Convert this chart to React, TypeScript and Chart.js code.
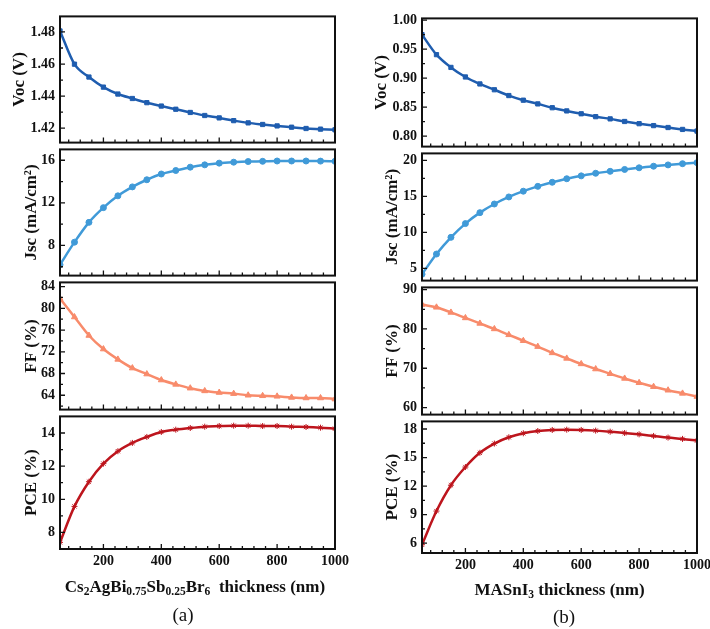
import React, { useEffect, useRef } from "react";
import { Chart, registerables } from "chart.js";

Chart.register(...registerables);

// ---------- data ----------
const thickness = [50, 100, 150, 200, 250, 300, 350, 400, 450, 500, 550, 600, 650, 700, 750, 800, 850, 900, 950, 1000];

const vocA = [1.4806, 1.4599, 1.4519, 1.4456, 1.4413, 1.4385, 1.4359, 1.4338, 1.4318, 1.4298, 1.4279, 1.4264, 1.4247, 1.4233, 1.4223, 1.4214, 1.4206, 1.4198, 1.4194, 1.419];
const jscA = [6.19, 8.31, 10.17, 11.55, 12.66, 13.5, 14.17, 14.71, 15.04, 15.35, 15.57, 15.73, 15.82, 15.88, 15.9, 15.93, 15.93, 15.93, 15.92, 15.9];
const ffA = [81.8, 78.4, 75.0, 72.5, 70.6, 69.0, 67.9, 66.8, 66.0, 65.3, 64.8, 64.5, 64.3, 64.0, 63.9, 63.8, 63.6, 63.5, 63.5, 63.3];
const pceA = [7.4, 9.57, 11.06, 12.15, 12.9, 13.4, 13.76, 14.06, 14.2, 14.3, 14.38, 14.42, 14.44, 14.44, 14.42, 14.42, 14.38, 14.36, 14.32, 14.26];

const vocB = [0.975, 0.9405, 0.9185, 0.902, 0.89, 0.88, 0.87, 0.862, 0.8556, 0.849, 0.8435, 0.8386, 0.8336, 0.8298, 0.8253, 0.8215, 0.8182, 0.8149, 0.8116, 0.8088];
const jscB = [4.2, 7.0, 9.32, 11.23, 12.75, 13.95, 14.93, 15.73, 16.4, 16.97, 17.46, 17.86, 18.22, 18.49, 18.75, 18.98, 19.2, 19.38, 19.55, 19.69];
const ffB = [86.2, 85.5, 84.2, 82.8, 81.4, 80.0, 78.5, 77.0, 75.5, 73.9, 72.5, 71.1, 69.8, 68.6, 67.4, 66.3, 65.3, 64.4, 63.6, 62.8];
const pceB = [5.83, 9.37, 12.09, 14.0, 15.5, 16.47, 17.13, 17.55, 17.79, 17.9, 17.93, 17.9, 17.83, 17.72, 17.58, 17.44, 17.27, 17.1, 16.96, 16.78];

// ---------- tick labels ----------
const xTicks = [200, 400, 600, 800, 1000];
const vocATicks = [1.42, 1.44, 1.46, 1.48];
const jscATicks = [8, 12, 16];
const ffATicks = [64, 68, 72, 76, 80, 84];
const pceATicks = [8, 10, 12, 14];
const vocBTicks = [0.8, 0.85, 0.9, 0.95, 1.0];
const jscBTicks = [5, 10, 15, 20];
const ffBTicks = [60, 70, 80, 90];
const pceBTicks = [6, 9, 12, 15, 18];

const FONT = "'Liberation Serif', 'Times New Roman', serif";
const C_VOC = "#1f5daf";
const C_JSC = "#409ad8";
const C_FF = "#f88b6b";
const C_PCE = "#bd151d";

type PanelDef = {
  values: number[];
  color: string;
  pointStyle: string;
  radius: number;
  yMin: number;
  yMax: number;
  ticks: number[];
  decimals: number;
  title: string;
  titlePad: number;
  showX: boolean;
  left: number;
  width: number;
  yW: number;
  padRight: number;
  top: number;
  bottom: number;
};

const framePlugin = {
  id: "frame",
  afterDatasetsDraw(chart: any, _args: any, opts: any) {
    const { ctx, chartArea, scales } = chart;
    const { left, right, top, bottom } = chartArea;
    const x = scales.x;
    const y = scales.y;
    ctx.save();
    ctx.strokeStyle = "#111";
    ctx.lineWidth = 1.3;
    ctx.beginPath();
    // bottom axis ticks (inward)
    for (let v = 80; v <= 1000; v += 40) {
      const px = x.getPixelForValue(v);
      if (px <= left + 1 || px >= right - 1) continue;
      const len = v % 200 === 0 ? 5 : 3;
      ctx.moveTo(px, bottom);
      ctx.lineTo(px, bottom - len);
    }
    // left axis ticks (inward)
    const majors: number[] = opts.majors || [];
    const step = majors.length > 1 ? majors[1] - majors[0] : 1;
    const half = step / 2;
    const start = majors[0] - Math.ceil((majors[0] - y.min) / half) * half;
    for (let i = 0; ; i++) {
      const v = start + i * half;
      if (v > y.max + 1e-9) break;
      if (v < y.min - 1e-9) continue;
      const py = y.getPixelForValue(v);
      if (py <= top + 1 || py >= bottom - 1) continue;
      const isMajor = majors.some((m) => Math.abs(m - v) < half * 0.1);
      ctx.moveTo(left, py);
      ctx.lineTo(left + (isMajor ? 5 : 3), py);
    }
    ctx.stroke();
    ctx.lineWidth = 2;
    ctx.strokeRect(left, top, right - left, bottom - top);
    ctx.restore();
  },
};

function Panel({ p }: { p: PanelDef }) {
  const ref = useRef<HTMLCanvasElement | null>(null);
  const padTop = 10;
  const xH = p.showX ? 28 : 0;
  const padBottom = p.showX ? 0 : 10;
  const canvasTop = p.top - padTop;
  const height = p.bottom - p.top + padTop + padBottom + xH;

  useEffect(() => {
    if (!ref.current) return;
    const chart = new Chart(ref.current, {
      type: "line",
      data: {
        datasets: [
          {
            data: thickness.map((t, i) => ({ x: t, y: p.values[i] })),
            borderColor: p.color,
            backgroundColor: p.color,
            borderWidth: 2.5,
            pointStyle: p.pointStyle as any,
            pointRadius: p.radius,
            pointBorderWidth: 1,
            pointBorderColor: p.color,
            pointBackgroundColor: p.color,
            tension: 0.35,
            cubicInterpolationMode: "monotone",
          },
        ],
      },
      options: {
        animation: false,
        responsive: false,
        events: [],
        layout: { padding: { top: padTop, bottom: padBottom, left: 0, right: p.padRight } },
        plugins: {
          legend: { display: false },
          tooltip: { enabled: false },
          frame: { majors: p.ticks },
        } as any,
        scales: {
          x: {
            type: "linear",
            min: 50,
            max: 1000,
            afterBuildTicks: (s: any) => {
              s.ticks = xTicks.map((v) => ({ value: v }));
            },
            afterFit: (s: any) => {
              s.height = xH;
            },
            grid: { display: false, drawTicks: false },
            border: { display: false },
            ticks: {
              display: p.showX,
              padding: 4,
              maxRotation: 0,
              autoSkip: false,
              color: "#111",
              font: { family: FONT, size: 14, weight: "bold" },
              callback: (v: any) => String(Math.round(Number(v))),
            },
          },
          y: {
            type: "linear",
            min: p.yMin,
            max: p.yMax,
            afterBuildTicks: (s: any) => {
              s.ticks = p.ticks.map((v) => ({ value: v }));
            },
            afterFit: (s: any) => {
              s.width = p.yW;
            },
            grid: { display: false, drawTicks: false },
            border: { display: false },
            ticks: {
              padding: 5,
              color: "#111",
              font: { family: FONT, size: 14, weight: "bold" },
              callback: (v: any) => Number(v).toFixed(p.decimals),
            },
            title: {
              display: true,
              text: p.title,
              color: "#111",
              font: { family: FONT, size: 17, weight: "bold" },
              padding: { top: p.titlePad, bottom: 0 },
            },
          },
        },
      },
      plugins: [framePlugin],
    } as any);
    return () => chart.destroy();
  }, []);

  return (
    <canvas
      ref={ref}
      width={p.width}
      height={height}
      style={{ position: "absolute", left: p.left, top: canvasTop, width: p.width, height }}
    />
  );
}

const L = { left: 0, width: 355, yW: 60, padRight: 20 };
const R = { left: 360, width: 360, yW: 62, padRight: 23 };

const panels: PanelDef[] = [
  { ...L, values: vocA, color: C_VOC, pointStyle: "rect", radius: 3, yMin: 1.411, yMax: 1.4897, ticks: vocATicks, decimals: 2, title: "Voc (V)", titlePad: 9, showX: false, top: 13, bottom: 146 },
  { ...L, values: jscA, color: C_JSC, pointStyle: "circle", radius: 3, yMin: 5.17, yMax: 17.02, ticks: jscATicks, decimals: 0, title: "Jsc (mA/cm²)", titlePad: 21, showX: false, top: 146, bottom: 279 },
  { ...L, values: ffA, color: C_FF, pointStyle: "triangle", radius: 3.5, yMin: 61.36, yMax: 84.77, ticks: ffATicks, decimals: 0, title: "FF (%)", titlePad: 21, showX: false, top: 279, bottom: 413 },
  { ...L, values: pceA, color: C_PCE, pointStyle: "star", radius: 3, yMin: 7.0, yMax: 15.0, ticks: pceATicks, decimals: 0, title: "PCE (%)", titlePad: 21, showX: true, top: 413, bottom: 549 },
  { ...R, values: vocB, color: C_VOC, pointStyle: "rect", radius: 3, yMin: 0.782, yMax: 1.003, ticks: vocBTicks, decimals: 2, title: "Voc (V)", titlePad: 11, showX: false, top: 15, bottom: 150 },
  { ...R, values: jscB, color: C_JSC, pointStyle: "circle", radius: 3, yMin: 3.31, yMax: 20.98, ticks: jscBTicks, decimals: 0, title: "Jsc (mA/cm²)", titlePad: 22, showX: false, top: 150, bottom: 284 },
  { ...R, values: ffB, color: C_FF, pointStyle: "triangle", radius: 3.5, yMin: 58.2, yMax: 90.57, ticks: ffBTicks, decimals: 0, title: "FF (%)", titlePad: 22, showX: false, top: 284, bottom: 418 },
  { ...R, values: pceB, color: C_PCE, pointStyle: "star", radius: 3, yMin: 4.96, yMax: 18.8, ticks: pceBTicks, decimals: 0, title: "PCE (%)", titlePad: 22, showX: true, top: 418, bottom: 553 },
];

const subStyle: React.CSSProperties = { fontSize: "0.68em", verticalAlign: "-0.3em", lineHeight: 0 };

export default function App() {
  return (
    <div
      style={{
        position: "absolute",
        left: 0,
        top: 0,
        width: 710,
        height: 629,
        overflow: "hidden",
        background: "#fff",
        fontFamily: FONT,
        color: "#111",
      }}
    >
      {panels.map((p, i) => (
        <Panel key={i} p={p} />
      ))}
      <div
        style={{
          position: "absolute",
          left: 40,
          width: 310,
          top: 577,
          lineHeight: "20px",
          textAlign: "center",
          fontSize: 17,
          fontWeight: "bold",
          whiteSpace: "pre",
        }}
      >
        Cs<sub style={subStyle}>2</sub>AgBi<sub style={subStyle}>0.75</sub>Sb<sub style={subStyle}>0.25</sub>Br<sub style={subStyle}>6</sub>{"  thickness (nm)"}
      </div>
      <div
        style={{
          position: "absolute",
          left: 422,
          width: 275,
          top: 580,
          lineHeight: "20px",
          textAlign: "center",
          fontSize: 17,
          fontWeight: "bold",
        }}
      >
        MASnI<sub style={subStyle}>3</sub> thickness (nm)
      </div>
      <div style={{ position: "absolute", left: 133, width: 100, top: 604, lineHeight: "22px", textAlign: "center", fontSize: 19 }}>(a)</div>
      <div style={{ position: "absolute", left: 514, width: 100, top: 606, lineHeight: "22px", textAlign: "center", fontSize: 19 }}>(b)</div>
    </div>
  );
}
